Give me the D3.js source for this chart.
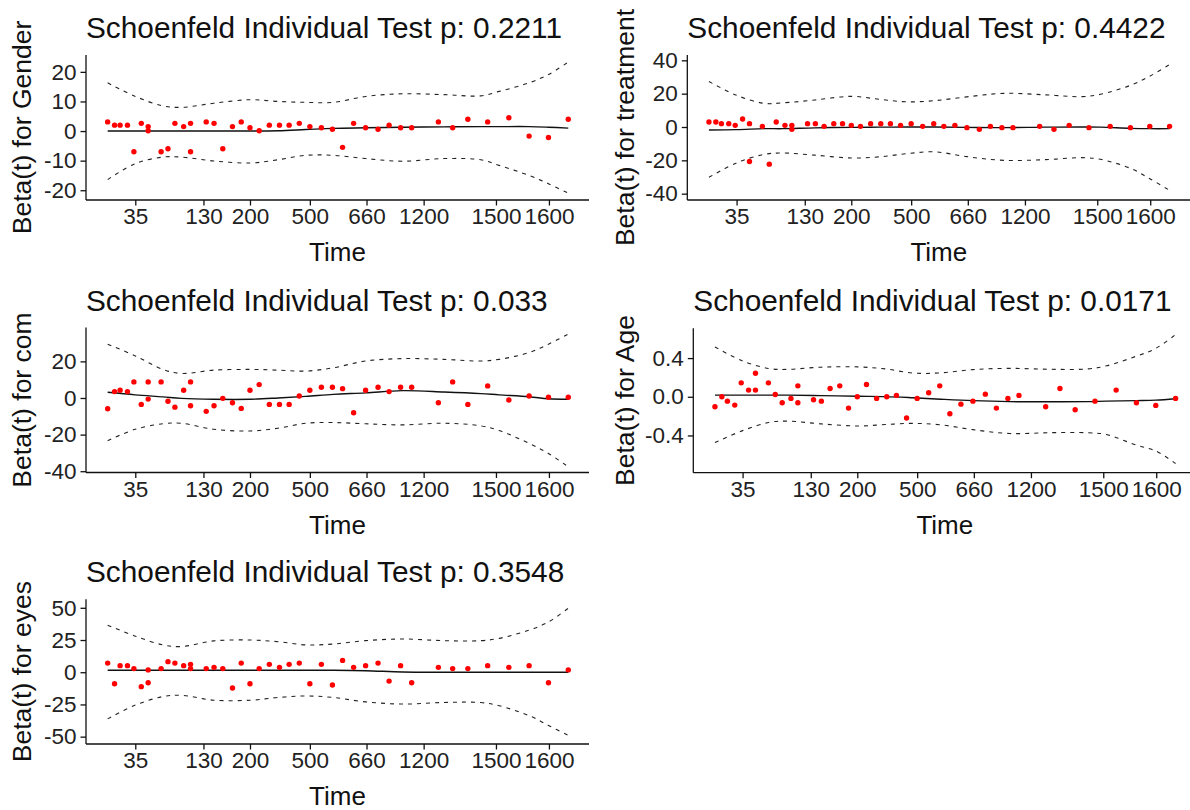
<!DOCTYPE html>
<html>
<head>
<meta charset="utf-8">
<script src="https://cdn.jsdelivr.net/npm/d3@7/dist/d3.min.js"></script>
<style>
  body { margin: 0; background: #fff; }
  text { font-family: "Liberation Sans", Arial, sans-serif; }
</style>
</head>
<body>
<div id="root"></div>
<script>
// transformed (KM) event times, 0..1
const kmTime = [0, .015, .027, .043, .057, .073, .088, .088, .116, .131, .146, .165, .180, .180,
  .214, .231, .250, .271, .290, .309, .329, .351, .373, .394, .416, .439, .464, .488, .510,
  .534, .560, .587, .611, .636, .660, .718, .749, .782, .825, .871, .915, .957, 1];

const timeTicks = [.06, .208, .309, .439, .562, .686, .843, .958];
const timeTickLabels = ["35", "130", "200", "500", "660", "1200", "1500", "1600"];

const curveTime = [0, .06, .12, .16, .23, .31, .37, .43, .49, .56, .64, .73, .81, .85, .915, .957, 1];

const genderResid = [3.1, 2.0, 2.0, 2.0, -7.0, 2.6, 1.5, 0.1, -7.0, -6.0, 2.6, 1.5, 2.6, -7.0,
  3.1, 2.6, -6.0, 1.5, 3.1, 1.1, 0.1, 2.0, 2.0, 2.0, 2.6, 1.5, 1.1, 0.6, -5.5, 2.6, 1.1, 0.6,
  2.0, 1.1, 1.1, 3.1, 1.1, 4.0, 3.1, 4.5, -1.7, -2.2, 4.0];
const genderFit = [0, 0, 0, 0, 0, 0, 0.1, 0.5, 0.9, 1.1, 1.3, 1.4, 1.5, 1.5, 1.5, 1.3, 1.0];
const genderUpper = [16.3, 11.7, 8.5, 8.0, 9.4, 10.6, 10.0, 9.7, 9.7, 11.7, 12.6, 12.3, 11.9, 13.4, 16.3, 19.1, 23.3];
const genderLower = [-16.4, -11, -8.8, -8.8, -10.1, -10.8, -9.7, -8.2, -8.2, -9.3, -10.2, -9.3, -9.7, -11.6, -15, -17.8, -21];

const treatResid = [3.0, 3.0, 2.0, 2.0, 1.0, 4.8, 2.0, -20.7, 0.4, -22.3, 3.0, 1.0, 1.0, -1.4,
  2.0, 2.0, 0.4, 2.0, 2.0, 1.0, 0.4, 2.0, 2.0, 2.0, 1.0, 2.0, 0.4, 2.0, 0.4, 1.0, -0.4, -1.4,
  0.4, -0.4, -0.4, 0.4, -1.4, 1.0, -0.4, 0.4, -0.4, 0.4, 0.4];
const treatFit = [-1.8, -1.6, -1.0, -1.0, -0.5, -0.2, -0.1, 0, 0, -0.2, -0.4, -0.1, 0, -0.1, -0.8, -1.0, -1.0];
const treatUpper = [27.3, 19, 14.2, 14.5, 16.2, 18.4, 16.6, 15.1, 15.8, 18.1, 20.2, 19.3, 18.2, 19.6, 25, 30.5, 37.5];
const treatLower = [-30.2, -21.5, -16.4, -15.6, -16.9, -18.6, -17.9, -16.0, -14.9, -17.8, -20.0, -19.6, -18.4, -19.4, -24.8, -31, -38];

const comResid = [-5.9, 3.5, 4.2, 3.5, 8.8, -3.5, 8.8, -0.6, 8.8, -1.8, -5.0, 4.2, 8.8, -4.2,
  -7.3, -4.2, -0.2, -2.6, -5.7, 4.2, 7.3, -3.5, -3.5, -3.5, 1.1, 4.2, 5.9, 5.9, 5.1, -8.1, 4.2,
  5.9, 3.5, 5.9, 5.9, -2.6, 8.8, -3.5, 6.6, -1.1, 1.1, 0.4, 0.4];
const comFit = [3.1, 1.7, 0.6, -0.2, -0.7, -0.7, 0, 0.9, 2, 2.8, 4.0, 3.3, 2.4, 1.7, 0.7, -0.4, -0.7];
const comUpper = [29.4, 23, 15.6, 13.4, 15.2, 15.6, 15.2, 14.7, 16.5, 20.2, 21.5, 21.1, 20.2, 21.1, 24.8, 29.4, 34.9];
const comLower = [-23.3, -17.1, -14.1, -13.8, -17.1, -18, -16.5, -13.8, -13.4, -14.1, -14.7, -13.8, -15.2, -17.8, -24.8, -30.3, -37.6];

const ageResid = [-0.103, 0.0, -0.045, -0.086, 0.144, 0.069, 0.069, 0.244, 0.144, 0.024, -0.062,
  -0.017, 0.113, -0.062, -0.031, -0.045, 0.086, 0.113, -0.117, 0.0, 0.127, -0.017, 0.0, 0.014,
  -0.22, -0.017, 0.041, 0.113, -0.175, -0.076, -0.045, 0.027, -0.117, -0.017, 0.014, -0.103,
  0.086, -0.134, -0.045, 0.069, -0.062, -0.089, -0.017];
const ageFit = [0.017, 0.017, 0.017, 0.017, 0.012, 0.005, 0.002, -0.01, -0.025, -0.04, -0.05, -0.052, -0.05, -0.045, -0.04, -0.035, -0.02];
const ageUpper = [0.515, 0.37, 0.29, 0.284, 0.306, 0.309, 0.288, 0.245, 0.247, 0.281, 0.294, 0.284, 0.288, 0.32, 0.42, 0.5, 0.643];
const ageLower = [-0.474, -0.35, -0.262, -0.252, -0.28, -0.302, -0.287, -0.275, -0.29, -0.34, -0.38, -0.371, -0.372, -0.39, -0.5, -0.56, -0.69];

const eyesResid = [7.1, -8.9, 5.1, 5.1, 2.8, -11.2, 1.8, -8.2, 2.8, 8.2, 7.1, 5.1, 6.1, 2.8,
  2.8, 3.8, 2.8, -12.2, 7.1, -8.9, 2.8, 6.1, 3.8, 6.1, 7.1, -8.9, 6.1, -9.9, 9.2, 3.8, 5.1,
  7.1, -6.9, 5.1, -8.2, 3.8, 2.8, 2.8, 5.1, 3.8, 5.1, -8.2, 1.8];
const eyesFit = [1.5, 1.5, 1.5, 1.5, 1.5, 1.5, 1.5, 1.5, 1.5, 1.2, 0.2, 0, 0, 0, 0, 0, 0];
const eyesUpper = [36.5, 28, 21.2, 19.9, 24.3, 25, 23.7, 21.2, 21.9, 24.5, 25.8, 24.5, 24.5, 26.3, 32.7, 39, 49.7];
const eyesLower = [-36.2, -25.5, -18.9, -17.9, -21.7, -21.7, -19.6, -18.4, -19.6, -23, -24.7, -23.5, -23.5, -26, -33.7, -41.3, -49];

const variables = ["Gender", "treatment", "com", "Age", "eyes"];
const pValues = ["0.2211", "0.4422", "0.033", "0.0171", "0.3548"];
const yTickValues = [[-20, -10, 0, 10, 20], [-40, -20, 0, 20, 40], [-40, -20, 0, 20], [-0.4, 0, 0.4], [-50, -25, 0, 25, 50]];
const yDomains = [[-23.3, 25.7], [-43.8, 43.2], [-40.7, 38.5], [-0.785, 0.708], [-55.7, 56.6]];

const series = [
  [genderResid, genderFit, genderUpper, genderLower],
  [treatResid, treatFit, treatUpper, treatLower],
  [comResid, comFit, comUpper, comLower],
  [ageResid, ageFit, ageUpper, ageLower],
  [eyesResid, eyesFit, eyesUpper, eyesLower]
];

// panel boxes (pixels)
const boxes = [
  { left: 86, top: 55, height: 145, titleX: 31 },
  { left: 687.3, top: 55, height: 145, titleX: 634 },
  { left: 86, top: 327.5, height: 145, titleX: 31 },
  { left: 693.3, top: 328.3, height: 144.4, titleX: 634 },
  { left: 86, top: 599.3, height: 144.7, titleX: 31 }
];
const panelWidth = 503;

let svg = d3.select("#root").append("svg")
  .attr("width", 1190)
  .attr("height", 810);

const drawPanel = (idx) => {
  let box = boxes[idx];
  let [resid, fit, upper, lower] = series[idx];
  let bottom = box.top + box.height;

  let x = d3.scaleLinear()
    .domain([-0.047, 1.045])
    .range([box.left, box.left + panelWidth]);

  let y = d3.scaleLinear()
    .domain(yDomains[idx])
    .range([bottom, box.top]);

  let g = svg.append("g").attr("class", "panel-" + variables[idx]);

  let line = d3.line()
    .x(function(d) { return x(d[0]); })
    .y(function(d) { return y(d[1]); })
    .curve(d3.curveCatmullRom);

  [upper, lower].forEach(function(band) {
    g.append("path")
      .datum(curveTime.map(function(t, i) { return [t, band[i]]; }))
      .attr("d", line)
      .attr("fill", "none")
      .attr("stroke", "#222")
      .attr("stroke-width", 1.1)
      .attr("stroke-dasharray", "4,5");
  });

  g.append("path")
    .datum(curveTime.map(function(t, i) { return [t, fit[i]]; }))
    .attr("d", line)
    .attr("fill", "none")
    .attr("stroke", "#111")
    .attr("stroke-width", 1.4);

  g.append("g")
    .selectAll("circle")
    .data(resid)
    .enter()
    .append("circle")
    .attr("cx", function(d, i) { return x(kmTime[i]); })
    .attr("cy", function(d) { return y(d); })
    .attr("r", 2.7)
    .attr("fill", "#ff0000");

  let fmt = idx === 3 ? d3.format(".1f") : d3.format("d");

  let yAxis = g.append("g")
    .attr("transform", "translate(" + box.left + ",0)")
    .call(d3.axisLeft(y).tickValues(yTickValues[idx]).tickSize(5.5).tickPadding(4).tickFormat(function(d) {
      return fmt(d).replace("\u2212", "-");
    }));

  let xAxis = g.append("g")
    .attr("transform", "translate(0," + bottom + ")")
    .call(d3.axisBottom(x).tickValues(timeTicks).tickSize(5.5).tickPadding(3).tickFormat(function(d, i) {
      return timeTickLabels[i];
    }));

  [xAxis, yAxis].forEach(function(a) {
    a.select(".domain").attr("stroke", "#111").attr("stroke-width", 1.3);
    a.selectAll(".tick line").attr("stroke", "#111").attr("stroke-width", 1.3);
    a.selectAll(".tick text")
      .attr("fill", "#222")
      .style("font-size", "22.5px")
      .style("font-family", "\"Liberation Sans\", Arial, sans-serif");
  });
  xAxis.select(".domain").attr("d", "M" + box.left + ",0H" + (box.left + panelWidth));
  yAxis.select(".domain").attr("d", "M0," + box.top + "V" + bottom);

  g.append("text")
    .attr("x", box.left)
    .attr("y", box.top - 17)
    .attr("fill", "#111")
    .style("font-size", "29.8px")
    .text("Schoenfeld Individual Test p: " + pValues[idx]);

  g.append("text")
    .attr("x", box.left + panelWidth / 2)
    .attr("y", bottom + 61)
    .attr("text-anchor", "middle")
    .attr("fill", "#111")
    .style("font-size", "26px")
    .text("Time");

  g.append("text")
    .attr("transform", "translate(" + box.titleX + "," + (box.top + box.height / 2) + ") rotate(-90)")
    .attr("text-anchor", "middle")
    .attr("fill", "#111")
    .style("font-size", "26.5px")
    .text("Beta(t) for " + variables[idx]);
};

for (let idx = 0; idx < variables.length; idx++) {
  drawPanel(idx);
}
</script>
</body>
</html>
